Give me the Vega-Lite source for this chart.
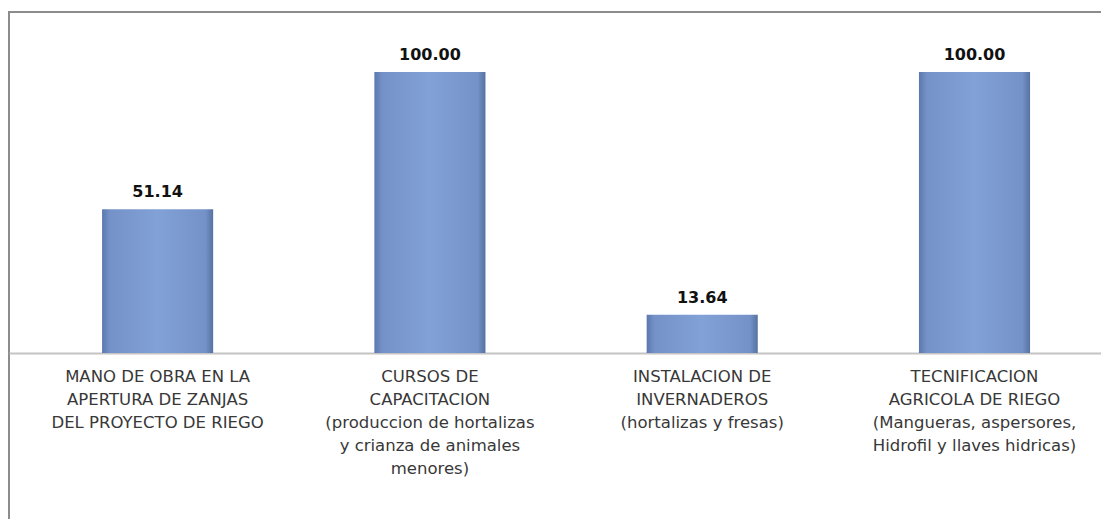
{
  "$schema": "https://vega.github.io/schema/vega-lite/v6.json",
  "autosize": {"type": "none"},
  "padding": {"left": 9, "top": 12, "right": 0, "bottom": 0},
  "width": 1093,
  "height": 508,
  "background": "#ffffff",
  "config": {"view": {"stroke": "#8c8c8c", "strokeWidth": 2}},
  "data": {"values": [
    {"actividad": "MANO DE OBRA EN LA|APERTURA DE ZANJAS|DEL PROYECTO DE RIEGO", "valor": 51.14},
    {"actividad": "CURSOS DE|CAPACITACION|(produccion de hortalizas|y crianza de animales|menores)", "valor": 100.00},
    {"actividad": "INSTALACION DE|INVERNADEROS|(hortalizas y fresas)", "valor": 13.64},
    {"actividad": "TECNIFICACION|AGRICOLA DE RIEGO|(Mangueras, aspersores,|Hidrofil y llaves hidricas)", "valor": 100.00}
  ]},
  "encoding": {
    "x": {
      "field": "actividad", "type": "nominal", "sort": null,
      "scale": {"paddingInner": 0.592, "paddingOuter": 0.303, "align": 0.564},
      "axis": {
        "title": null, "orient": "bottom", "offset": -167,
        "ticks": false, "labelAngle": 0, "labelPadding": 15,
        "labelFont": "DejaVu Sans", "labelFontSize": 16.5, "labelColor": "#383838",
        "labelLineHeight": 23, "labelLimit": 400, "labelOverlap": false,
        "labelBaseline": "top",
        "labelExpr": "split(datum.label, '|')",
        "domainColor": "#c4c4c4", "domainWidth": 2
      }
    },
    "y": {
      "field": "valor", "type": "quantitative",
      "scale": {"domain": [-59.43, 121.35], "nice": false, "zero": false},
      "axis": null
    }
  },
  "layer": [
    {
      "mark": {
        "type": "bar",
        "color": {
          "gradient": "linear", "x1": 0, "x2": 1, "y1": 0, "y2": 0,
          "stops": [
            {"offset": 0, "color": "#5b78ae"},
            {"offset": 0.07, "color": "#7492c8"},
            {"offset": 0.5, "color": "#82a1d6"},
            {"offset": 0.93, "color": "#7492c8"},
            {"offset": 1, "color": "#56729f"}
          ]
        }
      },
      "encoding": {"y2": {"datum": 0}}
    },
    {
      "mark": {
        "type": "text", "baseline": "middle", "align": "center", "dy": -17,
        "font": "DejaVu Sans", "fontWeight": "bold", "fontSize": 16, "color": "#111111"
      },
      "encoding": {"text": {"field": "valor", "type": "quantitative", "format": ".2f"}}
    }
  ]
}
